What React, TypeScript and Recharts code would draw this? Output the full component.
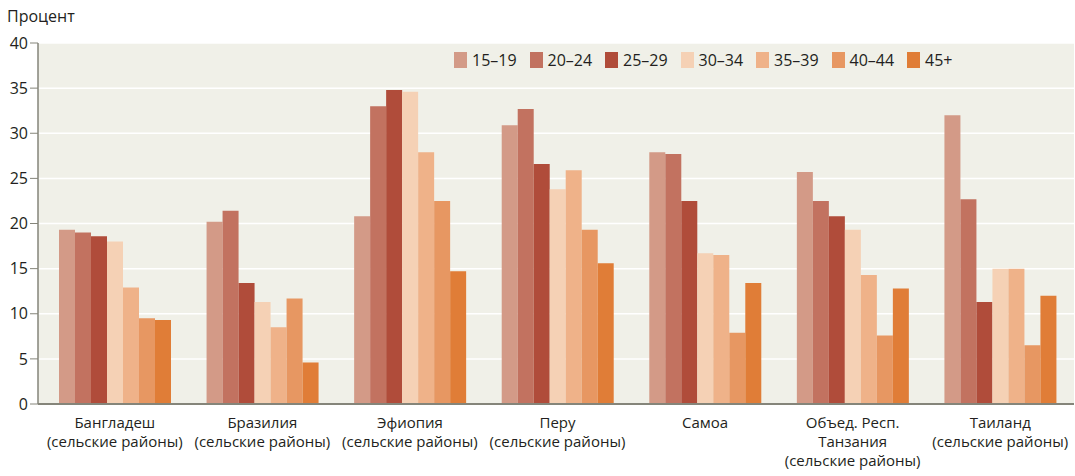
import { BarChart, Bar, XAxis, YAxis, CartesianGrid } from 'recharts'

const categories = [
  'Бангладеш\n(сельские районы)',
  'Бразилия\n(сельские районы)',
  'Эфиопия\n(сельские районы)',
  'Перу\n(сельские районы)',
  'Самоа',
  'Объед. Респ.\nТанзания\n(сельские районы)',
  'Таиланд\n(сельские районы)',
]

const ageGroups = ['15–19', '20–24', '25–29', '30–34', '35–39', '40–44', '45+']
const colors = ['#d39a87', '#c27260', '#b04c3a', '#f5d1b5', '#efb289', '#e79762', '#e07d37']

const a15_19 = [19.3, 20.2, 20.8, 30.9, 27.9, 25.7, 32.0]
const a20_24 = [19.0, 21.4, 33.0, 32.7, 27.7, 22.5, 22.7]
const a25_29 = [18.6, 13.4, 34.8, 26.6, 22.5, 20.8, 11.3]
const a30_34 = [18.0, 11.3, 34.6, 23.8, 16.7, 19.3, 15.0]
const a35_39 = [12.9, 8.5, 27.9, 25.9, 16.5, 14.3, 15.0]
const a40_44 = [9.5, 11.7, 22.5, 19.3, 7.9, 7.6, 6.5]
const a45plus = [9.3, 4.6, 14.7, 15.6, 13.4, 12.8, 12.0]

const yTicks = [0, 5, 10, 15, 20, 25, 30, 35, 40]

const seriesValues = [a15_19, a20_24, a25_29, a30_34, a35_39, a40_44, a45plus]

const data = categories.map((name, i) => {
  const row: Record<string, string | number> = { name }
  ageGroups.forEach((g, j) => {
    row[g] = seriesValues[j][i]
  })
  return row
})

const FONT = '"Open Sans", sans-serif'
const AXIS = '#85857a'

function CategoryTick({ x, y, payload }: any) {
  const lines = String(payload.value).split('\n')
  return (
    <text x={x} y={y + 16} textAnchor="middle" fontFamily={FONT} fontSize={15} fill="#231f20">
      {lines.map((l, i) => (
        <tspan key={i} x={x} dy={i === 0 ? 0 : 19}>
          {l}
        </tspan>
      ))}
    </text>
  )
}

function LegendBox() {
  return (
    <div
      style={{
        position: 'absolute',
        left: 454,
        top: 52,
        display: 'flex',
        fontFamily: FONT,
        fontSize: 16,
        color: '#231f20',
      }}
    >
      {ageGroups.map((g, i) => (
        <div key={g} style={{ display: 'flex', alignItems: 'center', width: 75.5, height: 16 }}>
          <span style={{ width: 13, height: 16, background: colors[i], marginRight: 5 }} />
          <span>{g}</span>
        </div>
      ))}
    </div>
  )
}

export default function App() {
  return (
    <div style={{ position: 'absolute', left: 0, top: 0, width: 1075, height: 476, background: '#fff' }}>
      <BarChart
        width={1075}
        height={476}
        data={data}
        margin={{ top: 43, right: 1, bottom: 0, left: 0 }}
        barGap={0}
        barCategoryGap={18}
      >
        <CartesianGrid vertical={false} stroke="#ffffff" strokeWidth={1.5} fill="#f0f0e8" />
        <XAxis
          dataKey="name"
          height={72}
          padding={{ left: 3, right: 0 }}
          tick={<CategoryTick />}
          tickLine={false}
          axisLine={{ stroke: AXIS, strokeWidth: 2 }}
          interval={0}
        />
        <YAxis
          width={38}
          domain={[0, 40]}
          ticks={yTicks}
          interval={0}
          tickLine={{ stroke: AXIS }}
          tickSize={8}
          axisLine={{ stroke: AXIS, strokeWidth: 1.5 }}
          tick={{ fontFamily: FONT, fontSize: 16, fill: '#231f20' }}
        />
        {ageGroups.map((g, i) => (
          <Bar key={g} dataKey={g} fill={colors[i]} isAnimationActive={false} />
        ))}
      </BarChart>
      <div style={{ position: 'absolute', left: 7, top: 5, fontFamily: FONT, fontSize: 16, color: '#231f20' }}>
        Процент
      </div>
      <LegendBox />
    </div>
  )
}
